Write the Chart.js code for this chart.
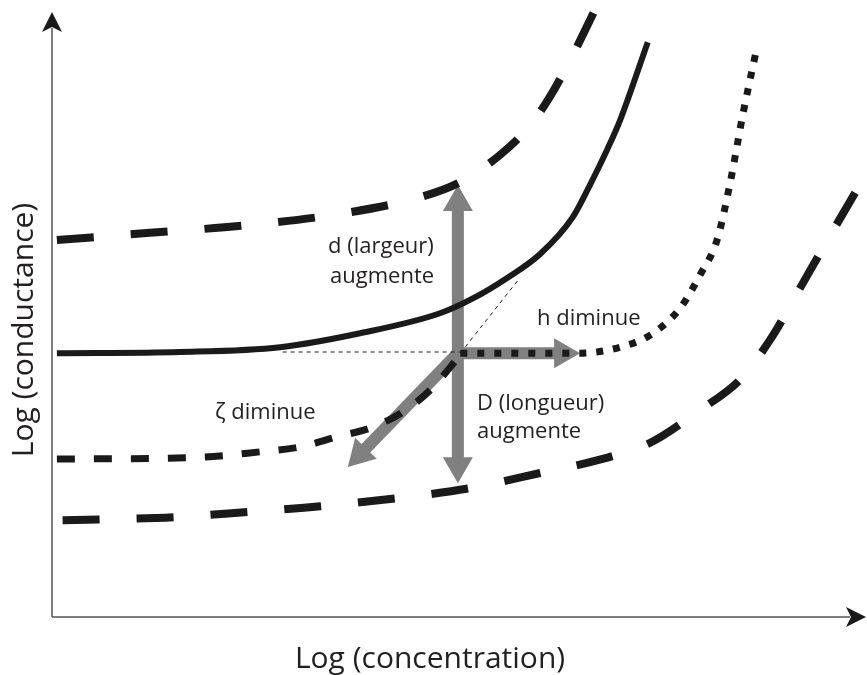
<!DOCTYPE html>
<html>
<head>
<meta charset="utf-8">
<script src="https://cdn.jsdelivr.net/npm/chart.js@4"></script>
<style>
  html, body { margin: 0; padding: 0; background: #fff; }
  #wrap { width: 867px; height: 675px; }
</style>
</head>
<body>
<div id="wrap"><canvas id="chart"></canvas></div>
<script>
// courbes (unités arbitraires, 0-100 sur chaque axe)
var refX = [0.6, 15.7, 28.0, 37.8, 47.6, 51.7, 55.8, 59.9, 63.9, 66.0, 68.1, 69.7, 73.1];
var refY = [43.6, 43.8, 44.6, 46.9, 50.2, 52.7, 56.0, 60.0, 66.1, 71.4, 77.2, 82.1, 95.0];

var largeX = [0.6, 12.0, 24.3, 36.6, 45.2, 50.1, 55.0, 58.7, 61.1, 63.6, 66.6];
var largeY = [62.3, 63.5, 64.8, 66.9, 69.4, 71.9, 76.4, 81.3, 86.0, 92.1, 100.3];

var hX = [50.1, 64.8, 69.7, 73.4, 77.1, 79.5, 81.6, 83.2, 84.8, 86.3];
var hY = [43.6, 43.6, 44.6, 46.6, 51.1, 56.5, 62.3, 71.7, 83.3, 92.9];

var zetaX = [0.6, 18.2, 25.5, 30.4, 35.3, 39.0, 42.7, 46.4, 50.1];
var zetaY = [26.1, 26.4, 27.3, 28.1, 29.9, 31.2, 33.6, 37.5, 43.3];

var longX = [1.3, 15.1, 24.3, 32.9, 42.7, 51.3, 59.9, 67.2, 73.4, 79.5, 84.4, 88.1, 91.8, 95.5, 99.1];
var longY = [16.0, 16.5, 17.4, 18.3, 19.7, 21.3, 23.8, 26.0, 28.8, 34.2, 39.2, 45.8, 54.4, 63.1, 71.4];

// lignes de construction fines
var guideHX = [28.3, 50.1];
var guideHY = [43.8, 43.8];
var guideDX = [50.1, 57.2];
var guideDY = [43.6, 55.7];

// flèches grises : centre et pointes
var arrowCenter = [49.8, 43.6];
var arrowTips = [[49.8, 71.4], [49.8, 22.1], [64.8, 43.6], [36.3, 24.8]];

function pts(xs, ys) {
  return xs.map(function (x, i) { return { x: x, y: ys[i] }; });
}

function serie(xs, ys, width, dash) {
  return {
    data: pts(xs, ys),
    borderColor: '#1a1a1a',
    borderWidth: width,
    borderDash: dash,
    pointRadius: 0,
    fill: false,
    clip: false,
    cubicInterpolationMode: 'monotone'
  };
}

var grayArrows = {
  id: 'grayArrows',
  beforeDatasetsDraw: function (chart) {
    var c = chart.ctx, sx = chart.scales.x, sy = chart.scales.y;
    var cx = sx.getPixelForValue(arrowCenter[0]);
    var cy = sy.getPixelForValue(arrowCenter[1]);
    c.save();
    c.fillStyle = '#808080';
    arrowTips.forEach(function (t) {
      var tx = sx.getPixelForValue(t[0]), ty = sy.getPixelForValue(t[1]);
      var a = Math.atan2(ty - cy, tx - cx);
      var len = Math.hypot(tx - cx, ty - cy);
      c.save();
      c.translate(cx, cy);
      c.rotate(a);
      c.beginPath();
      c.moveTo(0, -6);
      c.lineTo(len - 26, -6);
      c.lineTo(len - 26, -15);
      c.lineTo(len, 0);
      c.lineTo(len - 26, 15);
      c.lineTo(len - 26, 6);
      c.lineTo(0, 6);
      c.closePath();
      c.fill();
      c.restore();
    });
    c.restore();
  }
};

var decor = {
  id: 'decor',
  afterDraw: function (chart) {
    var c = chart.ctx, a = chart.chartArea;
    var x0 = a.left, y0 = a.bottom;
    c.save();
    // axes
    c.strokeStyle = '#555';
    c.lineWidth = 1.5;
    c.beginPath();
    c.moveTo(x0, y0);
    c.lineTo(x0, 28);
    c.moveTo(x0, y0);
    c.lineTo(850, y0);
    c.stroke();
    c.fillStyle = '#1a1a1a';
    c.beginPath();
    c.moveTo(x0, 12);
    c.lineTo(x0 + 10, 32);
    c.lineTo(x0, 27);
    c.lineTo(x0 - 10, 32);
    c.closePath();
    c.fill();
    c.beginPath();
    c.moveTo(866, y0);
    c.lineTo(846, y0 - 10);
    c.lineTo(851, y0);
    c.lineTo(846, y0 + 10);
    c.closePath();
    c.fill();

    // titres des axes
    c.fillStyle = '#231f20';
    c.textAlign = 'center';
    c.textBaseline = 'alphabetic';
    c.font = '30px "Open Sans"';
    c.fillText('Log (concentration)', 430, 668);
    c.save();
    c.translate(33, 330);
    c.rotate(-Math.PI / 2);
    c.fillText('Log (conductance)', 0, 0);
    c.restore();

    // annotations
    c.font = '22px "Open Sans"';
    c.textAlign = 'left';
    c.fillText('d (largeur)', 328, 253);
    c.fillText('augmente', 330, 283);
    c.fillText('h diminue', 537, 325);
    c.fillText('\u03b6 diminue', 215, 419);
    c.fillText('D (longueur)', 477, 410);
    c.fillText('augmente', 477, 438);
    c.restore();
  }
};

var ctx = document.getElementById('chart').getContext('2d');
var chart = new Chart(ctx, {
  type: 'line',
  data: {
    datasets: [
      serie(guideHX, guideHY, 1, [4, 4]),
      serie(guideDX, guideDY, 1, [4, 4]),
      serie(refX, refY, 6, []),
      serie(largeX, largeY, 8, [37, 37]),
      serie(hX, hY, 7, [7, 10]),
      serie(zetaX, zetaY, 7, [18, 19]),
      serie(longX, longY, 8, [37, 37])
    ]
  },
  options: {
    responsive: true,
    maintainAspectRatio: false,
    animation: false,
    layout: { padding: { left: 52, right: 0, top: 12, bottom: 58 } },
    plugins: { legend: { display: false }, tooltip: { enabled: false } },
    scales: {
      x: { type: 'linear', min: 0, max: 100, display: false },
      y: { type: 'linear', min: 0, max: 100, display: false }
    }
  },
  plugins: [grayArrows, decor]
});
</script>
</body>
</html>
